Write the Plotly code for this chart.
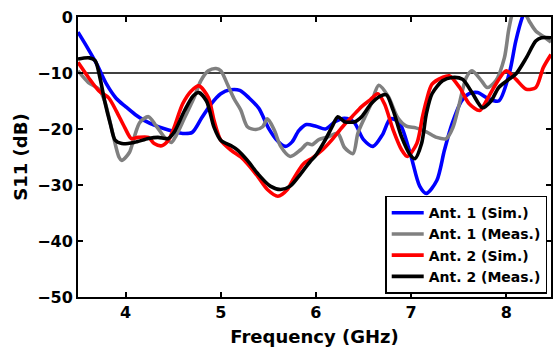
import plotly.graph_objects as go

# ---- data ----
blue_x = [3.5, 3.6, 3.7, 3.8, 3.9, 4.0, 4.1, 4.2, 4.3, 4.4, 4.5, 4.6, 4.7, 4.8, 4.9, 5.0, 5.1, 5.2, 5.3, 5.4,
          5.5, 5.6, 5.68, 5.75, 5.82, 5.9, 6.0, 6.1, 6.2, 6.3, 6.4, 6.5, 6.6, 6.7, 6.78, 6.85, 6.9, 7.0, 7.09,
          7.16, 7.27, 7.35, 7.43, 7.53, 7.61, 7.7, 7.8, 7.92, 8.03, 8.1, 8.17, 8.25, 8.5]
blue_y = [-2.7, -5.5, -8.5, -12, -14.5, -16, -17.4, -18.5, -19.3, -19.9, -20.4, -20.8, -20.6, -18, -15.5, -13.7,
          -13, -13.1, -14.5, -16.3, -19.8, -22.2, -23.1, -22.3, -20.3, -19.2, -19.5, -20, -18.7, -18.1, -18.8,
          -21.9, -23.1, -21, -18.2, -18.5, -19.6, -24.9, -30.2, -31.5, -29.2, -23.8, -19.1, -15, -13.7, -13.5,
          -14.5, -15, -10.2, -4.3, 0, 3, 3]

gray_x = [3.5, 3.61, 3.72, 3.78, 3.85, 3.93, 3.96, 4.04, 4.09, 4.15, 4.24, 4.32, 4.41, 4.48, 4.53, 4.62, 4.72,
          4.79, 4.87, 4.95, 5.0, 5.07, 5.14, 5.21, 5.28, 5.37, 5.44, 5.49, 5.56, 5.63, 5.73, 5.84, 5.91, 5.96,
          6.03, 6.13, 6.23, 6.3, 6.39, 6.44, 6.5, 6.58, 6.66, 6.76, 6.86, 6.95, 7.05, 7.16, 7.27, 7.37, 7.44,
          7.5, 7.58, 7.64, 7.74, 7.8, 7.89, 7.98, 8.03, 8.08, 8.18, 8.24, 8.31, 8.41, 8.47]
gray_y = [-9.6, -11.7, -12.9, -15, -19.7, -25, -25.6, -24.2, -21.5, -18.8, -17.8, -19.4, -21.5, -22.4, -21.2,
          -18, -14.4, -11.4, -9.6, -9.2, -9.6, -12, -14.6, -16.6, -19.6, -20.1, -19.6, -18.2, -20.1, -23.1,
          -24.9, -23.7, -22.6, -22.8, -21.9, -21.4, -20.8, -23.3, -24.4, -20.8, -18.4, -15.5, -12.2, -14.2,
          -18, -19.5, -19.8, -20.5, -21.5, -21.7, -19.7, -16, -10.8, -9.6, -11.4, -12.6, -11.4, -7.3, -1.9,
          1, 1, -0.7, -2.5, -3.7, -4.5]

red_x = [3.5, 3.61, 3.72, 3.82, 3.9, 3.99, 4.06, 4.13, 4.24, 4.3, 4.38, 4.45, 4.51, 4.6, 4.69, 4.77, 4.87, 4.93,
         5.0, 5.11, 5.21, 5.28, 5.39, 5.49, 5.6, 5.7, 5.76, 5.87, 5.96, 6.07, 6.17, 6.28, 6.38, 6.48, 6.57, 6.65,
         6.72, 6.81, 6.9, 6.96, 7.06, 7.12, 7.16, 7.22, 7.33, 7.4, 7.51, 7.61, 7.72, 7.79, 7.89, 8.0, 8.1, 8.21,
         8.31, 8.39, 8.47]
red_y = [-8.1, -10.8, -13.2, -14.4, -16.7, -19.7, -21.7, -21.5, -21.5, -22.6, -23, -22, -19.7, -15.5, -13.2,
         -12.3, -14.4, -18.5, -22, -23.8, -25, -26.2, -28.5, -30.8, -32, -30.8, -29, -26.2, -25.2, -23.7, -21.9,
         -19.6, -17.8, -16, -14.8, -13.7, -15.5, -20.1, -23.7, -24.9, -22.6, -17.8, -15, -12, -10.8, -10.5,
         -12.6, -15.5, -16.7, -15, -12, -9.6, -11.1, -12.9, -12.6, -9, -6.7]

black_x = [3.5, 3.62, 3.68, 3.73, 3.78, 3.84, 3.89, 3.96, 4.09, 4.24, 4.34, 4.45, 4.51, 4.62, 4.71, 4.77, 4.85,
           4.93, 5.0, 5.11, 5.18, 5.28, 5.39, 5.52, 5.63, 5.73, 5.84, 5.94, 5.99, 6.1, 6.17, 6.23, 6.3, 6.41, 6.48,
           6.58, 6.67, 6.74, 6.81, 6.9, 6.99, 7.04, 7.11, 7.16, 7.22, 7.33, 7.43, 7.54, 7.64, 7.75, 7.84, 7.92,
           8.03, 8.1, 8.21, 8.31, 8.37, 8.47]
black_y = [-7.5, -7.3, -7.8, -10.8, -15, -19.1, -22, -22.6, -22.4, -21.7, -21.5, -21.7, -20.6, -16.7, -14.1,
           -13.5, -15, -19.7, -22, -23, -23.8, -25.6, -28, -30.2, -30.8, -30.2, -28, -25.8, -24.9, -21.9, -19.6,
           -17.8, -18.7, -18.7, -17.8, -15.5, -14.2, -13.9, -16.6, -21.4, -24.6, -25.3, -22.6, -17.3, -13.7,
           -11.4, -10.8, -11.1, -13.5, -16.2, -15, -12.6, -11.1, -10.2, -7.3, -4.3, -3.7, -3.7]

series = [
    ("Ant. 1 (Sim.)", blue_x, blue_y, "#0000ff"),
    ("Ant. 1 (Meas.)", gray_x, gray_y, "#808080"),
    ("Ant. 2 (Sim.)", red_x, red_y, "#ff0000"),
    ("Ant. 2 (Meas.)", black_x, black_y, "#000000"),
]

x_ticks = [4, 5, 6, 7, 8]
y_ticks = [0, -10, -20, -30, -40, -50]
threshold = -10

FONT = "DejaVu Sans"

fig = go.Figure()
for name, xs, ys, col in series:
    fig.add_trace(go.Scatter(x=xs, y=ys, name=name, mode="lines",
                             line=dict(color=col, width=3.6, shape="spline", smoothing=0.8)))

fig.add_shape(type="line", xref="paper", x0=0, x1=1, yref="y", y0=threshold, y1=threshold,
              line=dict(color="black", width=1.6), layer="below")

fig.update_layout(
    width=553, height=351,
    margin=dict(l=78, r=0, t=17, b=54),
    paper_bgcolor="white", plot_bgcolor="white",
    font=dict(family=FONT, size=16, color="black", weight="bold"),
    showlegend=True,
    legend=dict(x=0.992, y=0.012, xanchor="right", yanchor="bottom",
                bgcolor="white", bordercolor="black", borderwidth=1.5,
                font=dict(family=FONT, size=14, color="black", weight="bold"),
                itemwidth=32, tracegroupgap=0),
    xaxis=dict(range=[3.5, 8.47], tickvals=x_ticks, ticks="inside", ticklen=5, tickwidth=1.5,
               tickcolor="black", showline=True, linecolor="black", linewidth=2, mirror="ticks",
               showgrid=False, zeroline=False,
               tickfont=dict(family=FONT, size=16, weight="bold"),
               title=dict(text="Frequency (GHz)", standoff=9,
                          font=dict(family=FONT, size=18, weight="bold"))),
    yaxis=dict(range=[-50, 0], tickvals=y_ticks, ticks="inside", ticklen=5, tickwidth=1.5,
               tickcolor="black", showline=True, linecolor="black", linewidth=2, mirror="ticks",
               showgrid=False, zeroline=False,
               tickfont=dict(family=FONT, size=16, weight="bold"),
               title=dict(text="S11 (dB)", standoff=5,
                          font=dict(family=FONT, size=18, weight="bold"))),
)

fig.write_html("out.html")
